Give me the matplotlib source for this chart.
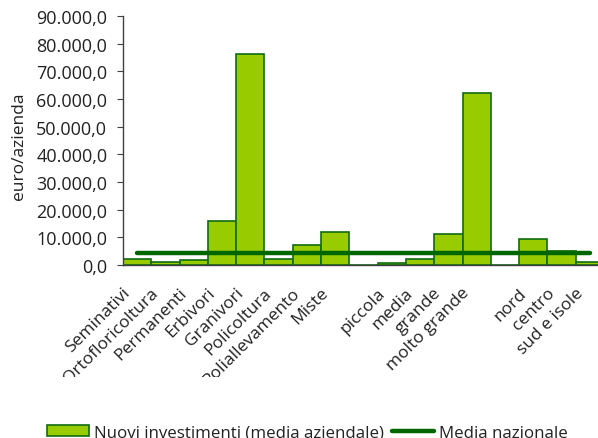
import matplotlib
matplotlib.use("Agg")
import matplotlib.pyplot as plt
import numpy as np
from matplotlib.ticker import FuncFormatter, MultipleLocator
from matplotlib.transforms import ScaledTranslation, Bbox
from matplotlib.patches import Patch
from matplotlib.lines import Line2D

# Categories (empty strings separate the three groups)
categories = ["Seminativi", "Ortofloricoltura", "Permanenti", "Erbivori", "Granivori",
              "Policoltura", "Poliallevamento", "Miste", "",
              "piccola", "media", "grande", "molto grande", "",
              "nord", "centro", "sud e isole"]

# Nuovi investimenti, media aziendale (euro/azienda); None = gap between groups
investimenti = [2200, 1000, 1700, 15900, 76300, 2200, 7100, 12000, None,
                600, 2200, 11100, 62200, None,
                9300, 5000, 1200]

media_nazionale = 4500

FS = 12.5
plt.rcParams["font.family"] = ["Open Sans", "DejaVu Sans"]
plt.rcParams["font.size"] = FS

W, H, DPI = 598, 439, 100
fig = plt.figure(figsize=(W / DPI, H / DPI), dpi=DPI)
ax = fig.add_axes([123 / W, 1 - 266 / H, 481 / W, 249 / H])

x = np.arange(len(categories))
vals = np.array([np.nan if v is None else v for v in investimenti], dtype=float)

bar_fill = "#99CC00"
bar_edge = "#0E6B12"
line_col = "#006600"
text_col = "#222222"

ax.bar(x, np.nan_to_num(vals), width=1.0, color=bar_fill, edgecolor=bar_edge,
       linewidth=1.2, zorder=2)
ax.plot(x, [media_nazionale] * len(x), color=line_col, linewidth=3.2,
        solid_capstyle="round", zorder=3)

ax.set_xlim(-0.5, len(categories) - 0.5)
ax.set_ylim(0, 90000)
ax.yaxis.set_major_locator(MultipleLocator(10000))


def fmt(v, pos):
    s = f"{v:,.1f}"
    return s.replace(",", "X").replace(".", ",").replace("X", ".")


ax.yaxis.set_major_formatter(FuncFormatter(fmt))

for side in ("top", "right"):
    ax.spines[side].set_visible(False)
ax.spines["left"].set_color("#404040")
ax.spines["bottom"].set_color("#404040")
ax.spines["left"].set_linewidth(1.0)
ax.spines["bottom"].set_linewidth(1.0)

ax.tick_params(axis="y", direction="out", length=4.3, width=0.8, color="#404040",
               pad=7, labelcolor=text_col, labelsize=13)
ax.tick_params(axis="x", length=0, pad=14, labelcolor=text_col, labelsize=FS)

ax.set_xticks(x)
ax.set_xticklabels(categories, rotation=45, ha="right", va="top",
                   rotation_mode="anchor")

# shift the rotated category labels left and cut them off above the legend
clip = Bbox([[0, 61], [W, H]])
for lbl in ax.get_xticklabels():
    lbl.set_transform(lbl.get_transform() +
                      ScaledTranslation(-15 / DPI, 0, fig.dpi_scale_trans))
    lbl.set_clip_box(clip)
    lbl.set_clip_on(True)

ax.set_ylabel("euro/azienda", color=text_col, fontsize=FS)
ax.yaxis.set_label_coords(-0.1996, 0.482)

handles = [Patch(facecolor=bar_fill, edgecolor=bar_edge, linewidth=1.2),
           Line2D([0], [0], color=line_col, linewidth=3.2, solid_capstyle="round")]
labels = ["Nuovi investimenti (media aziendale)", "Media nazionale"]
fig.legend(handles, labels, loc="center", bbox_to_anchor=(0.514, 0.012),
           ncol=2, frameon=False, handlelength=2.45, handleheight=0.66,
           handletextpad=0.3, columnspacing=0.5, fontsize=12.2,
           labelcolor=text_col)

fig.savefig("out.png", dpi=DPI)
